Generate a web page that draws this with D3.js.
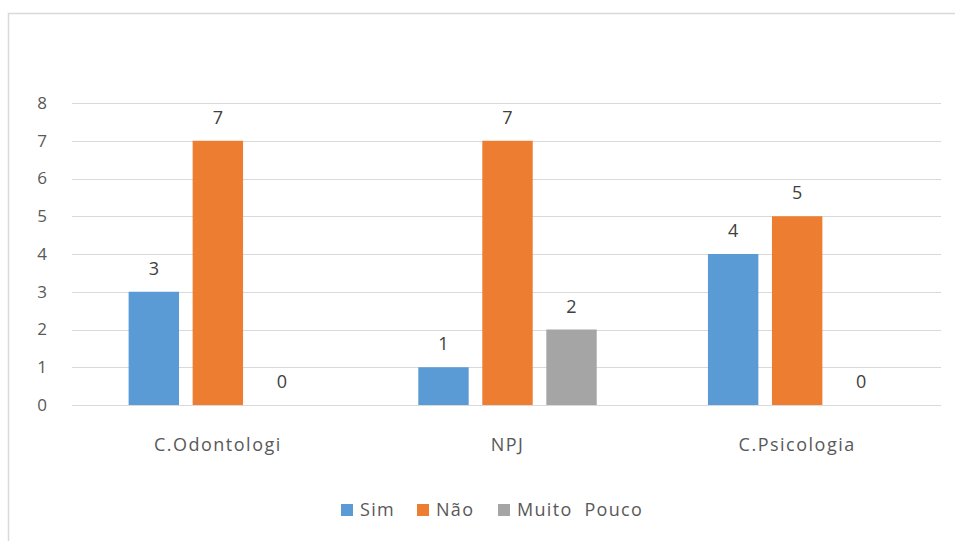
<!DOCTYPE html>
<html>
<head>
<meta charset="utf-8">
<script src="https://cdn.jsdelivr.net/npm/d3@7"></script>
<style>
  html, body { margin: 0; padding: 0; background: #fff; }
  svg { display: block; font-family: "Open Sans", "Liberation Sans", sans-serif; }
</style>
</head>
<body>
<svg id="chart" width="955" height="541"></svg>
<script>
// Respostas por local
const categories = ["C.Odontologi", "NPJ", "C.Psicologia"];
const seriesNames = ["Sim", "Não", "Muito  Pouco"];
const sim = [3, 1, 4];
const nao = [7, 7, 5];
const muitoPouco = [0, 2, 0];
const yTicks = [0, 1, 2, 3, 4, 5, 6, 7, 8];
const colors = ["#5b9bd5", "#ed7d31", "#a5a5a5"];

const seriesValues = [sim, nao, muitoPouco];

const svg = d3.select("#chart");

// outer frame
svg.append("rect")
  .attr("x", 8.5).attr("y", 13.5)
  .attr("width", 960).attr("height", 540)
  .attr("fill", "#fff").attr("stroke", "#d9d9d9").attr("stroke-width", 1.5);

const plot = { left: 72, right: 941, top: 103, bottom: 405 };

const x = d3.scaleBand().domain(categories).range([plot.left, plot.right]).padding(0);
const y = d3.scaleLinear().domain([0, 8]).range([plot.bottom, plot.top]);

// gridlines
svg.append("g").selectAll("line").data(yTicks).join("line")
  .attr("x1", plot.left).attr("x2", plot.right)
  .attr("y1", d => Math.round(y(d)) + 0.5).attr("y2", d => Math.round(y(d)) + 0.5)
  .attr("stroke", "#d9d9d9").attr("stroke-width", 1);

// y axis labels
const yAxis = d3.axisLeft(y).tickValues(yTicks).tickSize(0).tickPadding(0);
const gy = svg.append("g").attr("transform", `translate(${plot.left - 25},0)`).call(yAxis);
gy.select(".domain").remove();
gy.selectAll("text")
  .attr("fill", "#595959").style("font-size", "17px")
  .style("font-family", "'Open Sans', 'Liberation Sans', sans-serif");

// bars within each category
const bw = x.bandwidth();
const barW = bw * 0.174;
const step = bw * 0.221;
const inner = d3.scaleLinear().domain([0, 2]).range([-step, step]);

const rows = [];
categories.forEach((c, i) => {
  seriesValues.forEach((vals, s) => {
    rows.push({ cat: c, s, v: vals[i] });
  });
});

const cx = d => x(d.cat) + bw / 2 + 1 + inner(d.s);

svg.append("g").selectAll("rect").data(rows.filter(d => d.v > 0)).join("rect")
  .attr("x", d => cx(d) - barW / 2)
  .attr("y", d => y(d.v))
  .attr("width", barW)
  .attr("height", d => y(0) - y(d.v))
  .attr("fill", d => colors[d.s]);

// value labels
svg.append("g").selectAll("text").data(rows).join("text")
  .attr("x", d => cx(d))
  .attr("y", d => y(d.v) - 17)
  .attr("text-anchor", "middle")
  .attr("fill", "#404040")
  .style("font-size", "18px")
  .text(d => d.v);

// category labels
const xAxis = d3.axisBottom(x).tickSize(0).tickPadding(0);
const gx = svg.append("g").attr("transform", `translate(1,${plot.bottom + 33})`).call(xAxis);
gx.select(".domain").remove();
gx.selectAll("text")
  .attr("fill", "#595959").style("font-size", "18px")
  .style("letter-spacing", "1.5px")
  .style("font-family", "'Open Sans', 'Liberation Sans', sans-serif")
  .attr("dy", "0.71em");

// legend
const legendX = [341, 417, 498];
const lg = svg.append("g").selectAll("g").data(seriesNames).join("g")
  .attr("transform", (d, i) => `translate(${legendX[i]},504)`);
lg.append("rect").attr("width", 12).attr("height", 12).attr("fill", (d, i) => colors[i]);
lg.append("text")
  .attr("x", 19).attr("y", 6).attr("dy", "0.35em")
  .attr("fill", "#595959").style("font-size", "18px")
  .style("letter-spacing", "1.3px")
  .style("white-space", "pre")
  .attr("xml:space", "preserve")
  .text(d => d);
</script>
</body>
</html>
